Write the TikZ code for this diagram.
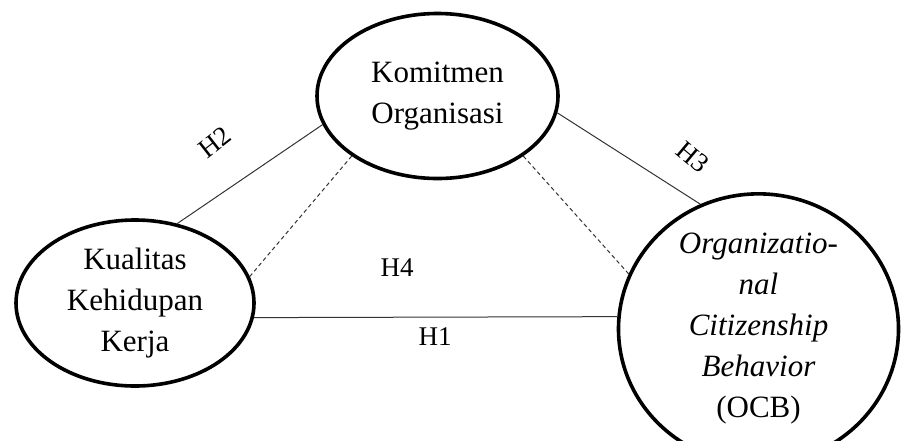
\documentclass[tikz,border=0pt]{standalone}
\usepackage{fontspec}
\setmainfont{Liberation Serif}
\usetikzlibrary{shapes.geometric}
\begin{document}
\begin{tikzpicture}[x=1pt,y=-1pt,
  construct/.style={ellipse,draw=black,line width=3.6pt,inner sep=0pt,align=center,
    font=\fontsize{31}{41}\selectfont},
  link/.style={draw=black!80,line width=1pt},
  dlink/.style={link,dash pattern=on 4pt off 3pt},
  hyp/.style={font=\fontsize{27}{30}\selectfont,inner sep=0pt}]
\useasboundingbox (0,0) rectangle (901,440);
\node[construct,minimum width=241pt,minimum height=165pt] (kom) at (437.5,96)
  {Komitmen\\Organisasi};
\node[construct,minimum width=238pt,minimum height=166pt] (kual) at (135,303)
  {Kualitas\\Kehidupan\\Kerja};
\node[construct,minimum width=280pt,minimum height=217pt] (ocb) at (758.5,329)
  {\itshape Organizatio-\\\itshape nal\\\itshape Citizenship\\\itshape Behavior\\(OCB)};
\draw[link] (kual.-7) -- (ocb.175);
\draw[link] (kual.62) -- (kom.194);
\draw[link] (kom.-8.6) -- (ocb.115.5);
\draw[dlink] (kom.215.3) -- (kual.13);
\draw[dlink] (kom.-35.5) -- (ocb.157);
\node[hyp,rotate=38] (h2) at (215,142) {H2};
\node[hyp,rotate=-40] (h3) at (693,157) {H3};
\node[hyp] (h4) at (397,268) {H4};
\node[hyp] (h1) at (435,337) {H1};
\end{tikzpicture}
\end{document}
